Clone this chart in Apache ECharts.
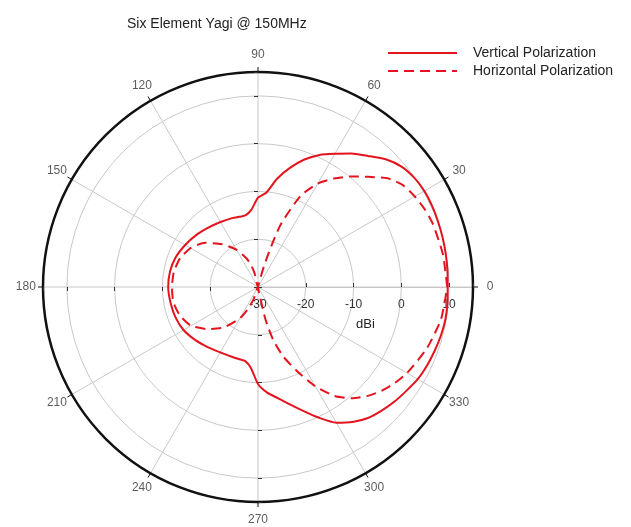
<!doctype html>
<html lang="en">
<head>
    <meta charset="UTF-8">
    <script src="https://cdn.jsdelivr.net/npm/echarts@6/dist/echarts.min.js"></script>
    <title>Six Element Yagi @ 150MHz</title>
    <style>
        html, body { margin: 0; padding: 0; background: #fff; }
    </style>
</head>
<body>
<div id="main" style="width: 631px;height:527px;"></div>
<script>
    // 垂直极化 (实线)
    var vAngles = [0, 5, 10, 15, 20, 25, 30, 35, 40, 45, 50, 55, 60, 65, 70, 75, 80, 85, 90, 95,
        100, 105, 110, 120, 130, 140, 150, 160, 170, 180, 190, 200, 210, 220, 230, 240, 250, 255,
        260, 265, 270, 275, 280, 285, 290, 295, 300, 305, 310, 315, 320, 325, 330, 335, 340, 345,
        350, 355, 360];
    var vGain = [9.7, 9.8, 9.9, 10.0, 10.1, 10.2, 10.2, 9.9, 9.2, 7.8, 5.8, 4.1, 2.2, 0.5, -1.6, -4.2, -7.0, -10.2, -11.3, -13.8,
        -14.8, -14.8, -14.6, -14.3, -13.8, -13.1, -12.4, -11.7, -11.3, -11.2, -11.4, -11.6, -12.0, -12.8, -13.6, -14.2, -14.4, -14.4,
        -14.3, -13.0, -9.7, -7.8, -6.4, -4.6, -2.4, 0.2, 2.8, 4.5, 5.8, 6.6, 7.3, 7.9, 8.6, 9.0, 9.3, 9.6,
        9.8, 9.8, 9.7];

    // 水平极化 (虚线)
    var hAngles = [0, 10, 20, 25, 30, 35, 40, 45, 50, 55, 60, 65, 70, 72, 74, 76, 78, 90, 100, 104,
        108, 112, 120, 130, 140, 150, 160, 170, 180, 190, 200, 210, 220, 230, 240, 245, 250, 255, 270,
        280, 283, 286, 290, 295, 300, 305, 310, 315, 320, 325, 330, 340, 350, 360];
    var hGain = [9.6, 9.3, 8.9, 8.5, 7.9, 7.1, 5.4, 2.6, 0.2, -2.3, -5.0, -9.0, -16.0, -21.0, -25.5, -29.0, -30, -30, -30, -27.0,
        -25.0, -23.5, -21.0, -18.3, -15.6, -13.7, -12.6, -12.1, -12.0, -12.0, -12.6, -13.8, -16.3, -19.0, -22.5, -24.8, -27.2, -30, -30,
        -29.0, -23.0, -18.5, -14.5, -10.5, -6.0, -2.2, 0.4, 2.3, 3.8, 5.0, 6.0, 7.6, 8.9, 9.6];

    var angleTicks = [0, 30, 60, 90, 120, 150, 180, 210, 240, 270, 300, 330];
    var radiusTicks = [-30, -20, -10, 0, 10];

    var seriesNames = ['Vertical Polarization', 'Horizontal Polarization'];

    function toPolar(angles, gains) {
        var out = [];
        for (var i = 0; i < angles.length; i++) {
            out.push([gains[i], angles[i]]);
        }
        return out;
    }

    var font = 'Liberation Sans, Arial, sans-serif';
    var red = '#e3141e';
    var center = [258, 287];
    var radius = 215;
    var labelRing = 18.6; // 角度标签放在外圈之外 (dB 单位)

    // 角度标签: 用极坐标散点放在外圈外面, 居中对齐
    var angleLabelData = [];
    for (var i = 0; i < angleTicks.length; i++) {
        angleLabelData.push([labelRing, angleTicks[i]]);
    }

    // 另外三个极坐标只用来在 90/180/270 方向画刻度
    var polars = [];
    var angleAxes = [];
    var radiusAxes = [];
    var starts = [0, 90, 180, 270];
    for (var k = 0; k < starts.length; k++) {
        polars.push({center: center, radius: radius});
        var main = k === 0;
        angleAxes.push({
            polarIndex: k,
            type: 'value',
            min: 0,
            max: 360,
            interval: 30,
            startAngle: starts[k],
            clockwise: false,
            show: main,
            axisLine: {show: main, lineStyle: {color: '#111', width: 2.5}},
            axisTick: {show: main, length: 5, lineStyle: {color: '#111'}},
            axisLabel: {show: false},
            splitLine: {show: main, lineStyle: {color: '#c8c8c8', width: 1}}
        });
        radiusAxes.push({
            polarIndex: k,
            type: 'value',
            min: -30,
            max: 15,
            interval: 10,
            name: main ? 'dBi' : '',
            nameLocation: 'middle',
            nameGap: 31,
            nameTextStyle: {fontFamily: font, fontSize: 13, color: '#222'},
            axisLine: {show: main, lineStyle: {color: '#c8c8c8'}},
            axisTick: {show: true, length: 4, lineStyle: {color: '#333'}},
            axisLabel: {
                show: main,
                margin: -18,
                verticalAlign: 'middle',
                fontFamily: font,
                fontSize: 12,
                color: '#333',
                formatter: function (v) {
                    return radiusTicks.indexOf(v) >= 0 ? String(v) : '';
                }
            },
            splitLine: {show: main, lineStyle: {color: '#c8c8c8', width: 1}}
        });
    }

    var myChart = echarts.init(document.getElementById('main'));
    var option = {
        animation: false,
        title: {
            text: 'Six Element Yagi @ 150MHz',
            left: 122,
            top: 12,
            textStyle: {fontFamily: font, fontSize: 14, fontWeight: 'normal', color: '#222'}
        },
        legend: {
            orient: 'vertical',
            left: 387,
            top: 46,
            padding: 0,
            itemWidth: 69,
            itemHeight: 14,
            itemGap: 4,
            data: seriesNames,
            itemStyle: {opacity: 0},
            textStyle: {fontFamily: font, fontSize: 14, color: '#222', padding: [0, 0, 0, 11]}
        },
        polar: polars,
        angleAxis: angleAxes,
        radiusAxis: radiusAxes,
        series: [
            {
                name: seriesNames[0],
                type: 'line',
                coordinateSystem: 'polar',
                polarIndex: 0,
                symbol: 'none',
                smooth: 0.2,
                lineStyle: {color: red, width: 2},
                itemStyle: {color: red},
                data: toPolar(vAngles, vGain)
            },
            {
                name: seriesNames[1],
                type: 'line',
                coordinateSystem: 'polar',
                polarIndex: 0,
                symbol: 'none',
                smooth: 0.2,
                lineStyle: {color: red, width: 2, type: [10, 6]},
                itemStyle: {color: red},
                data: toPolar(hAngles, hGain)
            },
            {
                name: 'angleLabels',
                type: 'scatter',
                coordinateSystem: 'polar',
                polarIndex: 0,
                clip: false,
                silent: true,
                symbolSize: 0.1,
                itemStyle: {color: 'transparent'},
                label: {
                    show: true,
                    position: 'inside',
                    fontFamily: font,
                    fontSize: 12,
                    color: '#333',
                    formatter: function (p) { return String(p.value[1]); }
                },
                data: angleLabelData
            }
        ]
    };
    myChart.setOption(option);
</script>
</body>
</html>
